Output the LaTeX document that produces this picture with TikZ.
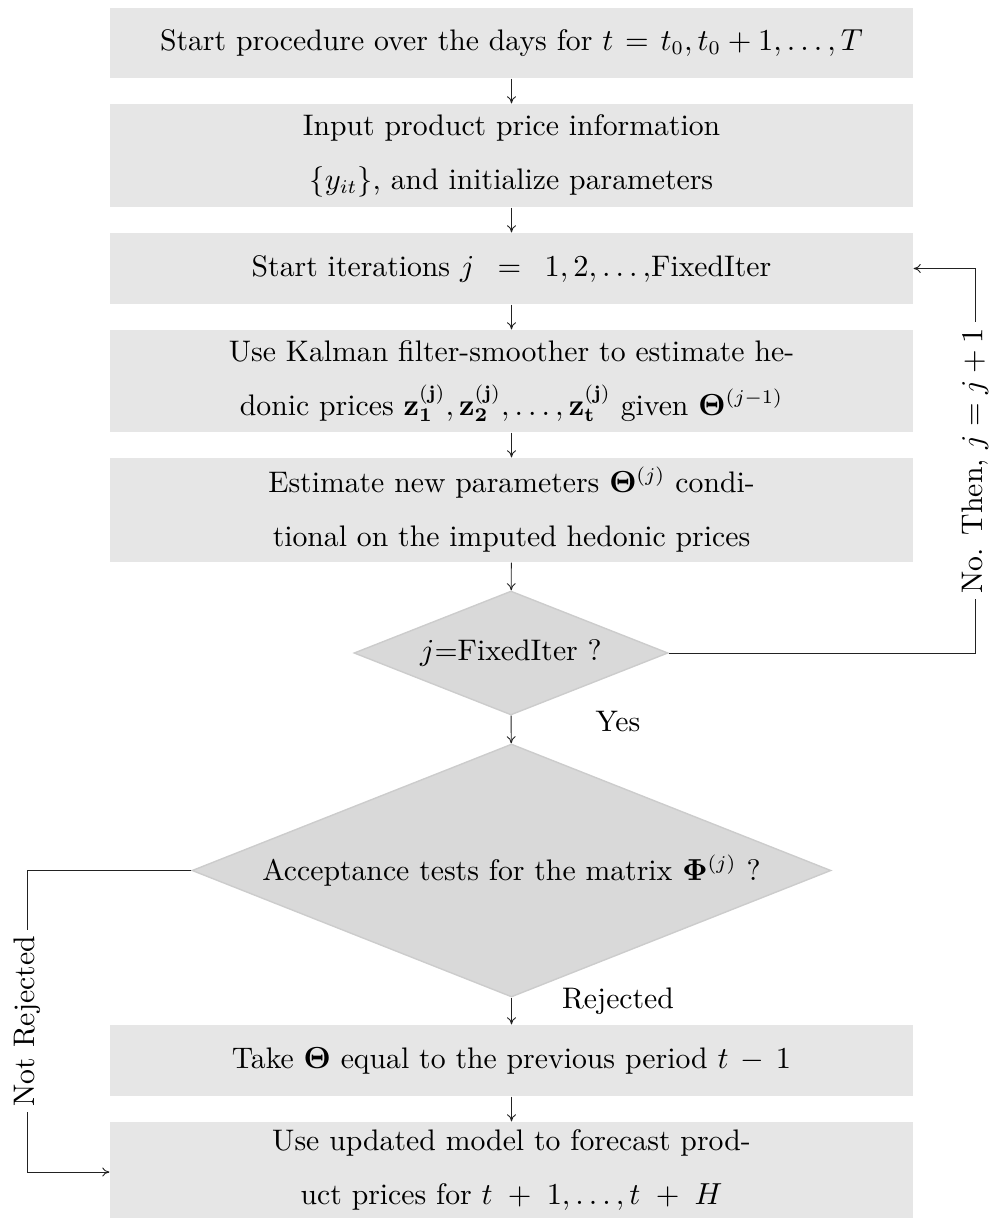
\documentclass[tikz,border=0pt]{standalone}
\usepackage{amsmath,amssymb,bm}
\usetikzlibrary{shapes.geometric,arrows.meta}
\definecolor{boxgray}{HTML}{E6E6E6}
\definecolor{diagray}{HTML}{D9D9D9}
\definecolor{diaborder}{HTML}{CCCCCC}
\definecolor{linegray}{HTML}{222222}
\begin{document}
\begin{tikzpicture}[x=0.36pt,y=-0.36pt,
  every node/.style={font=\fontsize{10.7}{19.4}\selectfont},
  box/.style={fill=boxgray, minimum width=289.08pt, align=center, inner sep=0pt},
  dec/.style={shape=diamond, fill=diagray, draw=diaborder, line width=0.5pt, aspect=2.53, inner sep=0pt, align=center},
  arr/.style={-{To[length=2.6pt,width=3.2pt]}, line width=0.32pt, draw=linegray},
  lab/.style={fill=white, inner sep=2pt, rotate=90},
  tag/.style={inner sep=0pt}]
\useasboundingbox (0,0) rectangle (992,1218);
\node[box, minimum height=25.2pt] (b1) at (511.5,43) {Start procedure over the days for $t\mskip2mu=\mskip2mu t_0, t_0+1, \ldots, T$};
\node[box, minimum height=37.08pt] (b2) at (511.5,155.5) {Input product price information\\ $\{y_{it}\}$, and initialize parameters};
\node[box, minimum height=25.56pt] (b3) at (511.5,268.5) {Start iterations $j\enspace=\enspace 1,2,\ldots,$FixedIter};
\node[box, minimum height=36.72pt] (b4) at (511.5,381) {Use Kalman filter-smoother to estimate he-\\ donic prices $\mathbf{z}^{(\mathbf{j})}_{\mathbf{1}},\mathbf{z}^{(\mathbf{j})}_{\mathbf{2}},\ldots,\mathbf{z}^{(\mathbf{j})}_{\mathbf{t}}$ given $\bm{\Theta}^{(j-1)}$};
\node[box, minimum height=37.44pt] (b5) at (511.5,510) {Estimate new parameters $\bm{\Theta}^{(j)}$ condi-\\ tional on the imputed hedonic prices};
\node[dec, minimum width=113.04pt, minimum height=44.64pt] (d1) at (511,653) {$j$=FixedIter ?};
\node[dec, minimum width=230.04pt, minimum height=91.08pt] (d2) at (511.5,870.5) {Acceptance tests for the matrix $\bm{\Phi}^{(j)}$ ?};
\node[box, minimum height=25.56pt] (b6) at (511.5,1060.5) {Take $\bm{\Theta}$ equal to the previous period $t\,-\,1$};
\node[box, minimum height=34.56pt] (b7) at (511.5,1170) {Use updated model to forecast prod-\\ uct prices for $t\;+\;1,\ldots,t\;+\;H$};
\node[tag] (yes) at (618,722) {Yes};
\node[tag] (rej) at (618,1001) {Rejected};
\coordinate (r1) at (975,653);
\coordinate (r2) at (975,268.5);
\coordinate (l1) at (27,870.5);
\coordinate (l2) at (27,1172);
\draw[arr] (b1) -- (b2);
\draw[arr] (b2) -- (b3);
\draw[arr] (b3) -- (b4);
\draw[arr] (b4) -- (b5);
\draw[arr] (b5) -- (d1);
\draw[arr] (d1) -- (d2);
\draw[arr] (d2) -- (b6);
\draw[arr] (b6) -- (b7);
\draw[arr] (d1.east) -- (r1) -- node[lab] {No. Then, $j=j+1$} (r2) -- (b3.east);
\draw[arr] (d2.west) -- (l1) -- node[lab] {Not Rejected} (l2) -- (b7.west |- l2);
\end{tikzpicture}
\end{document}
